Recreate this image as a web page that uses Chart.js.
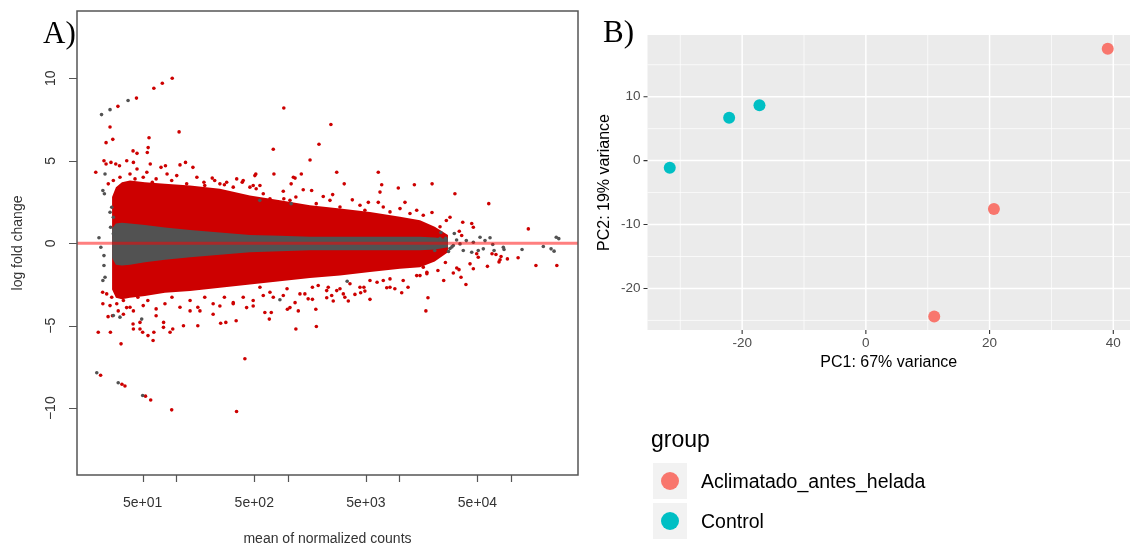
<!DOCTYPE html>
<html>
<head>
<meta charset="utf-8">
<script src="https://cdn.jsdelivr.net/npm/chart.js@4.4.1/dist/chart.umd.min.js"></script>
<style>
  html, body { margin: 0; padding: 0; background: #fff; }
  #wrap { position: relative; width: 1136px; height: 548px; }
  canvas { position: absolute; top: 0; }
  #ma { left: 0; }
  #pca { left: 590px; }
</style>
</head>
<body>
<div id="wrap">
  <canvas id="ma" width="590" height="548" style="width:590px;height:548px"></canvas>
  <canvas id="pca" width="546" height="548" style="width:546px;height:548px"></canvas>
</div>
<script>
// ---- Panel A: MA plot ----
// dense cloud, read as envelopes at these mean counts
const bandCounts = [26.6, 28.8, 32.6, 38.5, 52.4, 79.2, 133, 246, 457, 849, 1577, 2930, 5442, 10110, 15270, 20700, 27200];
const redTop     = [2.8, 3.4, 3.7, 3.8, 3.7, 3.6, 3.5, 3.3, 2.9, 2.6, 2.3, 2.1, 1.9, 1.6, 1.4, 1.0, 0.5];
const redBottom  = [-2.8, -3.3, -3.4, -3.3, -3.2, -3.0, -2.9, -2.7, -2.5, -2.3, -2.1, -1.95, -1.75, -1.55, -1.45, -1.1, -0.55];
const greyTop    = [0.9, 1.2, 1.25, 1.2, 1.1, 0.95, 0.8, 0.65, 0.5, 0.45, 0.4, 0.4, 0.4, 0.4, 0.4, 0.35, 0.25];
const greyBottom = [-0.9, -1.3, -1.35, -1.3, -1.15, -1.0, -0.85, -0.7, -0.55, -0.48, -0.42, -0.42, -0.42, -0.42, -0.42, -0.38, -0.25];

// significant genes outside the dense cloud (red)
const sigCounts = [92, 75, 63, 44, 30, 920, 25.5, 23.5, 27, 106, 57, 56, 55, 41, 44.5, 740, 750, 19, 22.5, 23.5,
  26, 28.7, 31, 36, 44.5, 58.5, 73, 80, 108, 121, 141, 516, 910, 920, 1120, 1070, 2430, 1900, 1580, 2740,
  3200, 6460, 6930, 6690, 1320, 1160, 9760, 13600, 19600, 31400, 63100, 142800, 115600, 167000, 257000, 92700, 61400, 78000, 39400, 24900,
  18000, 34150, 32600, 35600, 42870, 45900, 50800, 49200, 36900, 44400, 45900, 28370, 26300, 34350, 36100, 67500, 73200, 81300, 79600, 20,
  25.7, 32, 21, 32.6, 34.7, 53, 59, 91, 347, 412, 41, 41.3, 47.3, 50, 55.8, 62, 63, 88, 93, 116,
  156, 250, 278, 344, 26.8, 24.5, 22, 23.8, 30.2, 33.6, 35.9, 41.3, 66, 77, 133, 163, 214, 246, 324, 427,
  489, 622, 682, 990, 1044, 1180, 1160, 1800, 17250, 5442, 4490, 4900, 3480, 3140, 2550, 2230, 1780, 1660, 1420, 1240,
  8223, 9090, 10470, 11930, 15270, 17600, 30360, 41.3, 177, 221, 283, 348, 398, 1373, 1633, 2075, 2520, 3780, 5260, 6460,
  11200, 562, 489, 520, 710, 1520, 2470, 3240, 3990, 7690, 602, 740, 910, 1870, 2300, 2740, 4427, 5442, 7160, 16340,
  21.9, 25.5, 47.3, 76.8];
const sigLfc = [10.0, 9.7, 9.4, 8.8, 8.3, 8.2, 7.05, 6.1, 6.3, 6.75, 6.4, 5.8, 5.5, 5.6, 5.45, 5.7, 4.2, 4.3, 5.0, 4.8,
  4.9, 4.8, 4.7, 5.0, 4.5, 4.8, 4.6, 4.7, 4.75, 4.9, 4.6, 4.2, 3.15, 2.7, 4.0, 3.6, 7.2, 6.0, 5.05, 4.3,
  3.6, 4.3, 3.55, 3.1, 4.2, 3.95, 3.35, 3.55, 3.6, 3.0, 2.4, 0.87, -0.88, -1.35, -1.35, -0.95, -1.4, -1.13, -2.5, -2.26,
  -3.3, -1.6, -1.5, -2.06, -1.25, -1.55, -0.85, -0.64, 1.27, 1.2, 0.97, 1.58, 1.38, 0.73, 0.47, -0.64, -0.68, -0.8, -1.0, -5.4,
  -5.4, -6.1, -8.0, -8.55, -8.65, -9.27, -9.5, -10.1, -10.2, -7.0, -4.9, -5.2, -5.2, -5.4, -5.6, -5.9, -5.4, -5.4, -5.2, -5.0,
  -5.0, -4.85, -4.8, -4.7, -4.4, -4.45, -3.67, -3.07, -4.1, -4.3, -3.9, -4.1, -4.4, -4.8, -4.1, -4.1, -4.3, -3.8, -3.6, -3.9,
  -3.8, -4.2, -4.6, -4.0, -3.9, -5.2, -3.6, -5.05, -4.1, -3.4, -3.0, -2.9, -3.5, -3.07, -3.5, -3.3, -4.0, -3.4, -3.07, -4.1,
  -2.67, -2.76, -3.0, -2.67, -1.96, -1.85, -1.8, 4.9, 3.7, 3.8, 3.7, 3.9, 3.8, 3.24, 3.2, 2.83, 2.95, 2.63, 2.48, 2.48,
  2.48, 3.5, 3.5, 3.3, -4.2, -3.37, -3.17, -3.27, -3.1, -2.7, -3.17, -3.27, -3.17, -2.56, -2.67, -2.87, -2.67, -2.26, -2.26, -1.45,
  -2.97, -3.78, -4.8, -5.1];

// significant genes on the ragged rim of the dense cloud (red)
const rimCounts = [24.6, 27.3, 31.3, 33.6, 38.5, 42.7, 50.6, 54.5, 61, 66, 82.7, 91, 101, 124, 153, 180, 210, 246, 270, 324,
  390, 457, 506, 26.4, 29.3, 33.6, 38.5, 45.3, 50.6, 55.6, 66, 79.2, 91.5, 108, 133, 156, 180, 214, 270, 324,
  398, 489, 602, 691, 1044, 1180, 1796, 2383, 2930, 4427, 4900, 7160, 8223, 10110, 12420, 14270, 16340, 562, 691, 983,
  1283, 1660, 2228, 2930, 3601, 4800, 6300, 8223, 10800, 14270, 17600, 19560, 23080, 25800, 22100];
const rimLfc = [3.6, 3.8, 4.0, 3.5, 4.2, 3.9, 4.0, 4.3, 3.7, 3.9, 4.2, 3.8, 4.1, 3.6, 4.0, 3.5, 3.95, 3.6, 3.55, 3.4,
  3.7, 3.4, 4.1, -3.27, -3.67, -3.47, -3.88, -3.27, -3.78, -3.47, -3.98, -3.67, -3.27, -3.88, -3.47, -3.88, -3.27, -3.67, -3.27, -3.67,
  -3.27, -3.47, 3.0, 2.7, 2.6, 2.8, 2.4, 2.6, 2.2, 2.3, 2.0, 2.2, 1.9, 2.1, 1.8, 2.0, 1.7, -2.67, -2.97, -2.76,
  -3.07, -2.67, -2.87, -2.76, -2.46, -2.67, -2.36, -2.16, -2.26, -1.96, -1.76, 1.86, 1.0, -1.17, -1.65];

// non-significant genes outside the dense core (grey)
const nsCounts = [37, 25.5, 21.4, 20.3, 19.4, 30.2, 50, 49, 22.5, 22, 23, 22, 22.7, 21.1, 22.5, 23, 26.4, 25.5, 27.3, 25.8,
  27.3, 27.3, 31.3, 849, 254000, 267600, 194500, 242800, 228200, 125400, 86500, 52700, 64780, 58400, 68500, 56400, 70400, 45900, 39700, 34870,
  30360, 37300, 44400, 50800, 85200, 24000, 23080, 28370, 20700, 23500, 31000, 1070, 3400, 560, 26000, 29500, 32500, 27500];
const nsLfc = [8.65, 8.1, 7.8, 0.33, -7.85, -8.46, -9.23, -4.6, -1.35, -2.26, 4.2, 3.2, 3.0, -0.24, -0.75, -2.06, 2.18, 1.88, 1.58, 0.97,
  0.57, -4.38, -4.48, -3.43, 0.36, 0.28, -0.2, -0.48, -0.34, -0.38, -0.38, 0.36, 0.33, 0.16, -0.08, -0.34, -0.44, 0.06, 0.16, -0.04,
  -0.14, -0.44, -0.55, -0.44, -0.24, 0.16, 0.28, -0.32, -0.44, 0.65, 0.59, 2.4, -2.3, 2.6, 0.3, -0.22, 0.2, -0.5];

const maXTicks = [50, 100, 500, 1000, 5000, 10000, 50000, 100000];
const maXLabels = ['5e+01', '', '5e+02', '', '5e+03', '', '5e+04', ''];
const maYTicks = [-10, -5, 0, 5, 10];
const maYLabels = ['\u221210', '\u22125', '0', '5', '10'];

// ---- Panel B: PCA ----
const groups = ['Aclimatado_antes_helada', 'Control'];
const groupColors = ['#F8766D', '#00BFC4'];
const pc1Acl = [39.1, 20.7, 11.05];
const pc2Acl = [17.5, -7.56, -24.4];
const pc1Ctl = [-31.7, -22.1, -17.2];
const pc2Ctl = [-1.1, 6.7, 8.66];
const pcXMajor = [-20, 0, 20, 40];
const pcXMinor = [-30, -10, 10, 30];
const pcYMajor = [-20, -10, 0, 10];
const pcYMinor = [-25, -15, -5, 5, 15];

const pairs = (xs, ys) => xs.map((x, i) => ({x, y: ys[i]}));
const band = arr => bandCounts.map((c, i) => ({x: c, y: arr[i]}));

const SANS = '"Liberation Sans", Arial, sans-serif';
const SERIF = '"Liberation Serif", "Times New Roman", serif';

function text(ctx, str, x, y, font, color, align, base, rot) {
  ctx.save();
  ctx.font = font;
  ctx.fillStyle = color;
  ctx.textAlign = align || 'center';
  ctx.textBaseline = base || 'middle';
  ctx.translate(x, y);
  if (rot) ctx.rotate(rot);
  ctx.fillText(str, 0, 0);
  ctx.restore();
}

// R base-graphics style frame, ticks and labels
const maAxes = {
  id: 'maAxes',
  afterDatasetsDraw(chart) {
    const {ctx, chartArea: a, scales: {x, y}} = chart;
    ctx.save();
    ctx.beginPath();
    ctx.rect(a.left, a.top, a.width, a.height);
    ctx.clip();
    const y0 = y.getPixelForValue(0);
    ctx.strokeStyle = 'rgba(255,0,0,0.5)';
    ctx.lineWidth = 3;
    ctx.beginPath();
    ctx.moveTo(a.left, y0);
    ctx.lineTo(a.right, y0);
    ctx.stroke();
    ctx.restore();

    ctx.save();
    ctx.strokeStyle = '#555';
    ctx.lineWidth = 1.5;
    ctx.strokeRect(a.left, a.top, a.width, a.height);
    ctx.lineWidth = 1.2;
    ctx.beginPath();
    maXTicks.forEach(v => {
      const px = Math.round(x.getPixelForValue(v)) + 0.5;
      ctx.moveTo(px, a.bottom);
      ctx.lineTo(px, a.bottom + 7);
    });
    maYTicks.forEach(v => {
      const py = Math.round(y.getPixelForValue(v)) + 0.5;
      ctx.moveTo(a.left, py);
      ctx.lineTo(a.left - 8, py);
    });
    ctx.stroke();
    ctx.restore();

    const f = '14px ' + SANS;
    maXTicks.forEach((v, i) => {
      if (maXLabels[i]) text(ctx, maXLabels[i], x.getPixelForValue(v), a.bottom + 28, f, '#333');
    });
    maYTicks.forEach((v, i) => {
      text(ctx, maYLabels[i], 51, y.getPixelForValue(v), f, '#333', 'center', 'middle', -Math.PI / 2);
    });
    text(ctx, 'mean of normalized counts', (a.left + a.right) / 2, 539, f, '#333');
    text(ctx, 'log fold change', 18, (a.top + a.bottom) / 2, f, '#333', 'center', 'middle', -Math.PI / 2);
    text(ctx, 'A)', 43, 43, '31px ' + SERIF, '#000', 'left', 'alphabetic');
  }
};

const noLine = {type: 'line', borderColor: 'rgba(0,0,0,0)', borderWidth: 0, pointRadius: 0};

new Chart(document.getElementById('ma'), {
  type: 'scatter',
  data: {
    datasets: [
      {...noLine, data: band(redTop), fill: '+1', backgroundColor: '#cd0000', order: 6},
      {...noLine, data: band(redBottom), fill: false, order: 6},
      {...noLine, data: band(greyTop), fill: '+1', backgroundColor: '#525252', order: 5},
      {...noLine, data: band(greyBottom), fill: false, order: 5},
      {data: pairs(rimCounts, rimLfc), backgroundColor: '#cd0000', borderWidth: 0, pointRadius: 1.8, order: 4},
      {data: pairs(sigCounts, sigLfc), backgroundColor: '#cd0000', borderWidth: 0, pointRadius: 1.8, order: 4},
      {data: pairs(nsCounts, nsLfc), backgroundColor: '#525252', borderWidth: 0, pointRadius: 1.8, order: 3}
    ]
  },
  options: {
    responsive: false,
    animation: false,
    events: [],
    layout: {padding: {left: 77, right: 12, top: 11, bottom: 73}},
    plugins: {legend: {display: false}, tooltip: {enabled: false}},
    scales: {
      x: {type: 'logarithmic', min: 12.9, max: 397800, display: false},
      y: {type: 'linear', min: -14.05, max: 14.08, display: false}
    }
  },
  plugins: [maAxes]
});

// ggplot2 style panel, grid, axes and legend
const pcaTheme = {
  id: 'pcaTheme',
  beforeDatasetsDraw(chart) {
    const {ctx, chartArea: a, scales: {x, y}} = chart;
    ctx.save();
    ctx.fillStyle = '#EBEBEB';
    ctx.fillRect(a.left, a.top, a.width, a.height);
    ctx.strokeStyle = '#FFFFFF';
    ctx.lineWidth = 0.7;
    ctx.beginPath();
    pcXMinor.forEach(v => { const p = x.getPixelForValue(v); ctx.moveTo(p, a.top); ctx.lineTo(p, a.bottom); });
    pcYMinor.forEach(v => { const p = y.getPixelForValue(v); ctx.moveTo(a.left, p); ctx.lineTo(a.right, p); });
    ctx.stroke();
    ctx.lineWidth = 1.5;
    ctx.beginPath();
    pcXMajor.forEach(v => { const p = x.getPixelForValue(v); ctx.moveTo(p, a.top); ctx.lineTo(p, a.bottom); });
    pcYMajor.forEach(v => { const p = y.getPixelForValue(v); ctx.moveTo(a.left, p); ctx.lineTo(a.right, p); });
    ctx.stroke();
    ctx.restore();
  },
  afterDraw(chart) {
    const {ctx, chartArea: a, scales: {x, y}} = chart;
    ctx.save();
    ctx.strokeStyle = '#333';
    ctx.lineWidth = 1.1;
    ctx.beginPath();
    pcXMajor.forEach(v => { const p = x.getPixelForValue(v); ctx.moveTo(p, a.bottom); ctx.lineTo(p, a.bottom + 4); });
    pcYMajor.forEach(v => { const p = y.getPixelForValue(v); ctx.moveTo(a.left, p); ctx.lineTo(a.left - 4, p); });
    ctx.stroke();
    ctx.restore();

    const f = '13.5px ' + SANS;
    pcXMajor.forEach(v => text(ctx, String(v), x.getPixelForValue(v), a.bottom + 13, f, '#4D4D4D'));
    pcYMajor.forEach(v => text(ctx, String(v), a.left - 7, y.getPixelForValue(v), f, '#4D4D4D', 'right'));
    text(ctx, 'PC1: 67% variance', (a.left + a.right) / 2, 363, '16px ' + SANS, '#000');
    text(ctx, 'PC2: 19% variance', 15, (a.top + a.bottom) / 2, '16px ' + SANS, '#000', 'center', 'middle', -Math.PI / 2);
    text(ctx, 'B)', 13, 42, '31px ' + SERIF, '#000', 'left', 'alphabetic');

    // legend
    text(ctx, 'group', 61, 447, '23px ' + SANS, '#000', 'left', 'alphabetic');
    const keyTops = [463, 503];
    groups.forEach((g, i) => {
      ctx.save();
      ctx.fillStyle = '#F2F2F2';
      ctx.fillRect(63, keyTops[i], 34, 36);
      ctx.fillStyle = groupColors[i];
      ctx.beginPath();
      ctx.arc(80, keyTops[i] + 18, 9, 0, Math.PI * 2);
      ctx.fill();
      ctx.restore();
      text(ctx, g, 111, keyTops[i] + 19.5, '19.5px ' + SANS, '#000', 'left');
    });
  }
};

new Chart(document.getElementById('pca'), {
  type: 'scatter',
  data: {
    datasets: [
      {label: groups[0], data: pairs(pc1Acl, pc2Acl), backgroundColor: groupColors[0], borderWidth: 0, pointRadius: 6},
      {label: groups[1], data: pairs(pc1Ctl, pc2Ctl), backgroundColor: groupColors[1], borderWidth: 0, pointRadius: 6}
    ]
  },
  options: {
    responsive: false,
    animation: false,
    events: [],
    layout: {padding: {left: 57.5, right: 6, top: 35, bottom: 218}},
    plugins: {legend: {display: false}, tooltip: {enabled: false}},
    scales: {
      x: {type: 'linear', min: -35.3, max: 42.7, display: false},
      y: {type: 'linear', min: -26.5, max: 19.65, display: false}
    }
  },
  plugins: [pcaTheme]
});
</script>
</body>
</html>
